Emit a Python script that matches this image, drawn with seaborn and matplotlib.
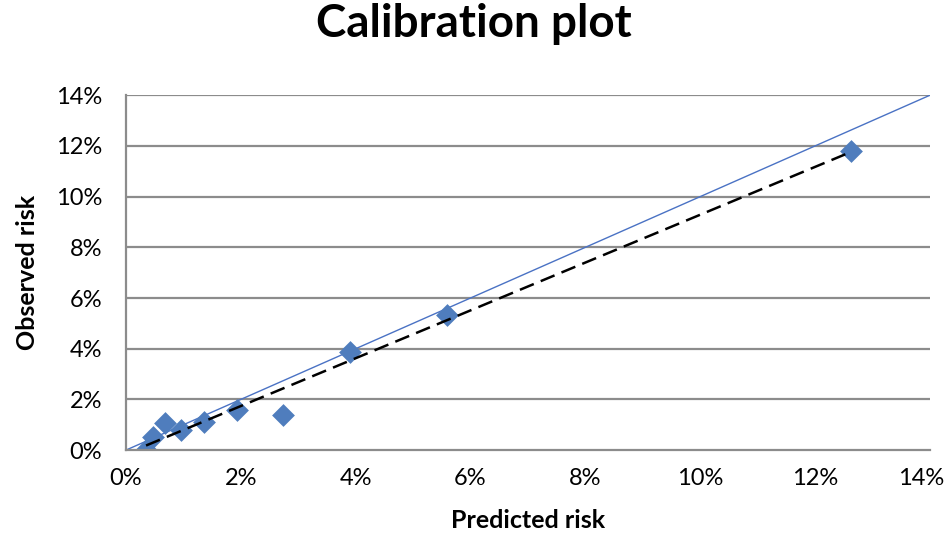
import numpy as np
import pandas as pd
import matplotlib
matplotlib.use("Agg")
import matplotlib.pyplot as plt
import matplotlib.transforms as mtransforms
import seaborn as sns

# values, in percent
predicted = [0.35, 0.47, 0.68, 0.96, 1.36, 1.93, 2.74, 3.90, 5.59, 12.63]
observed = [0.00, 0.51, 1.06, 0.79, 1.10, 1.58, 1.38, 3.86, 5.32, 11.79]
ticks = [0, 2, 4, 6, 8, 10, 12, 14]
tick_labels = [f"{t}%" for t in ticks]

sns.set_theme(style="white")
plt.rcParams["font.family"] = ["Lato", "DejaVu Sans"]
plt.rcParams["text.color"] = "black"
plt.rcParams["axes.labelcolor"] = "black"

df = pd.DataFrame({"Predicted risk": predicted, "Observed risk": observed})

fig = plt.figure(figsize=(9.47, 5.41), dpi=100)
ax = fig.add_axes([0.133, 0.168, 0.849, 0.656])

# horizontal gridlines
for t in ticks[1:]:
    ax.axhline(t, color="#8c8c8c", lw=1.6, zorder=0)

# ideal calibration line
sns.lineplot(x=[ticks[0], ticks[-1]], y=[ticks[0], ticks[-1]], ax=ax,
             color="#4a72c4", lw=1.0, zorder=1)

# linear trendline through the points
slope, intercept = np.polyfit(predicted, observed, 1)
trend_x = [min(predicted), max(predicted)]
trend_y = [slope * v + intercept for v in trend_x]
sns.lineplot(x=trend_x, y=trend_y, ax=ax, color="black", lw=1.8,
             zorder=3).lines[-1].set_dashes([6, 3])

sns.scatterplot(data=df, x="Predicted risk", y="Observed risk", ax=ax,
                marker="D", s=135, color="#4f7dbd", edgecolor="#4f7dbd",
                linewidth=0, zorder=2)

ax.set_xlim(0, 14)
ax.set_ylim(0, 14)
ax.set_xticks(ticks)
ax.set_xticklabels(tick_labels)
ax.set_yticks(ticks)
ax.set_yticklabels(tick_labels)
ax.tick_params(axis="both", labelsize=17, colors="black", length=0)
ax.tick_params(axis="x", pad=13)
ax.tick_params(axis="y", pad=17)

# last x label nudged in so it stays on the canvas
last = ax.get_xticklabels()[-1]
last.set_transform(last.get_transform() +
                   mtransforms.ScaledTranslation(-0.09, 0, fig.dpi_scale_trans))

for side in ["top", "right"]:
    ax.spines[side].set_visible(False)
for side in ["left", "bottom"]:
    ax.spines[side].set_color("#8c8c8c")
    ax.spines[side].set_linewidth(1.6)

ax.set_xlabel("Predicted risk", fontsize=18, fontweight="bold", labelpad=14)
ax.set_ylabel("Observed risk", fontsize=18, fontweight="bold", labelpad=12)
fig.suptitle("Calibration plot", fontsize=33, fontweight="bold", y=0.995)

fig.savefig("out.png", dpi=100)
